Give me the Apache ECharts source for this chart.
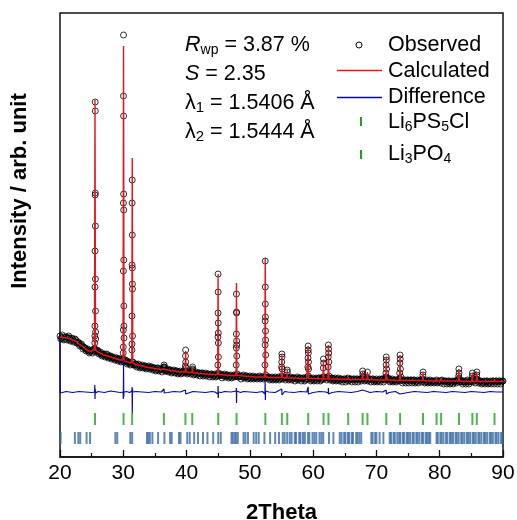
<!DOCTYPE html>
<html>
<head>
<meta charset="utf-8">
<script src="https://cdn.jsdelivr.net/npm/echarts@6/dist/echarts.min.js"></script>
<style>html,body{margin:0;padding:0;background:#fff}#c{width:517px;height:520px}</style>
</head>
<body>
<div id="c"></div>
<script>
// ---- data (intensity in arbitrary units) ----
const twoThetaStart = 20, twoThetaStep = 0.125;
const observedBackground = [
121,118,119,122,120,117,118,120, 120,117,119,121,119,116,117,119, 118,115,116,118,117,114,114,115,
114,111,112,113,111,108,110,109, 109,106,107,108,106,104,105,106, 107,104,106,108,108,105,106,107,
106,103,104,105,103,101,102,103, 103,100,101,103,102,99,100,101, 101,98,99,100,99,97,98,99,
99,96,97,98,98,95,96,97, 98,95,96,97,96,93,94,95, 95,92,93,95,95,92,92,93,
93,90,91,93,92,89,90,91, 92,89,90,91,91,88,89,90, 91,88,89,90,90,87,88,89,
89,86,87,89,89,86,87,88, 88,85,87,88,90,86,86,87, 88,85,86,87,87,84,85,86,
87,84,85,86,86,83,84,85, 86,83,84,85,86,84,85,86, 85,83,84,85,85,83,85,86,
85,82,83,84,85,82,83,84, 84,81,83,84,84,81,82,83, 84,81,82,83,83,80,82,83,
83,80,81,82,83,80,81,82, 84,81,82,83,82,79,81,82, 83,80,81,82,82,79,80,81,
82,79,80,81,82,80,81,82, 83,80,80,81,81,78,80,81, 82,79,80,81,81,78,79,80,
81,78,79,80,81,78,79,80, 80,78,79,80,81,78,79,80, 80,78,79,80,82,79,79,80,
80,77,78,79,80,77,78,79, 80,77,78,79,80,77,78,79, 81,78,79,80,79,77,79,80,
80,77,78,79,80,77,78,79, 79,76,78,79,80,77,78,79, 79,76,78,79,79,76,77,78,
80,78,81,79,79,76,77,78, 79,76,77,78,79,76,78,79, 79,76,77,78,80,78,80,79,
79,77,80,79,81,77,78,79, 79,76,77,78,79,76,77,78, 79,76,77,78,78,75,77,78,
78,75,77,78,79,76,77,78, 78,75,77,78,78,75,77,78, 78,75,77,78,78,76,78,80,
79,76,77,78,79,76,77,78, 78,75,77,78,78,75,76,77, 78,75,76,77,78,75,77,78,
78,75,77,78,80,77,78,79, 78,75,76,77,78,75,76,77, 77,75,76,77,78,76,78,80,
77,74,76,77,77,74,76,77, 77,74,76,77,77,74,76,77, 77,74,75,76,77,74,76,77,
77,75,78,77,77,74,75,76, 77,74,75,76,77,74,75,76, 76,74,75,76,77,74,75,76,
76,74,76,77,76,73,75,76, 76,73,75,76,76,73,74,75, 76,73,75,76,76,74,76,77,
78,75,76,77,75,73,75,76, 75,73,76,77,75,73,75,76, 77,75,78,77,76,74,77,78,
77,74,75,76,76,73,74,75, 76,73,75,76,76,73,74,75, 76,73,75,76,76,73,75,76,
76,73,75,76,76,73,75,76,
76
];
const observedPeaks = [
[25.50,114],[25.51,121],[25.52,131],[25.53,170],[25.54,206],[25.55,262],[25.56,355],[25.57,346],[25.58,264],[25.59,231],[25.60,178],[25.61,146],[25.62,125],[25.63,118],
[29.98,104],[29.99,110],[30.00,127],[30.01,186],[30.02,254],[30.03,361],[30.04,422],[30.05,341],[30.06,263],[30.07,247],[30.08,197],[30.09,151],[30.10,131],[30.11,119],
[31.36,107],[31.37,113],[31.38,141],[31.39,192],[31.40,254],[31.41,277],[31.42,222],[31.43,189],[31.44,173],[31.45,168],[31.46,121],
[36.42,90],[36.45,92],[36.48,89],
[39.80,91],[39.83,101],[39.85,107],[39.87,95],[39.90,89],
[40.92,88],[40.95,90],[40.98,87],
[44.94,92],[44.96,120],[44.97,144],[44.98,183],[44.99,165],[45.00,134],[45.01,124],[45.02,114],[45.03,100],
[47.84,92],[47.86,109],[47.87,123],[47.88,163],[47.89,145],[47.90,144],[47.91,116],[47.92,112],[47.93,101],
[52.39,92],[52.41,112],[52.42,136],[52.43,196],[52.44,170],[52.45,153],[52.46,140],[52.47,126],[52.48,117],[52.50,102],
[55.02,90],[55.04,95],[55.06,103],[55.08,100],[55.10,88],
[55.90,87],[55.93,85],
[59.17,90],[59.19,99],[59.21,111],[59.22,107],[59.24,104],[59.26,95],[59.28,88],
[61.60,89],[61.63,98],[61.66,94],
[62.37,90],[62.39,100],[62.41,112],[62.43,108],[62.45,104],[62.47,95],
[67.82,86],[67.86,83],[68.58,85],
[71.50,84],[71.53,92],[71.55,100],[71.57,97],[71.60,88],
[73.68,84],[73.71,94],[73.73,102],[73.76,98],[73.79,88],
[77.34,82],[77.37,85],
[83.00,81],[83.03,88],[83.06,84],
[85.14,81],[85.17,84],[85.84,82],[85.87,85]
];
const calculatedBackground = [
[20,120],[20.5,119.5],[21,119],[21.5,118.5],[22,117],[22.5,116],[23,113],[23.5,111],[24,108.5],[24.5,106],[25,106],[25.3,106.5],[26,105],[26.5,103.5],[27,102],[27.5,101],[28,100],[28.5,99],[29,98],[29.5,97],[29.8,97],[30.5,95.5],[31,94.5],[31.7,93.5],[32,92.5],[33,91],[34,89.5],[35,88.5],[36,87.5],[37,87],[38,86],[39,85],[40,85],[41.5,84],[42,83.5],[43,83],[44,82.5],[45.3,82.5],[46,82],[47,81.5],[48.5,81.5],[49,81],[50,80.5],[51,80],[52,80],[53,79.5],[54,79.5],[55.3,79.5],[56.5,79],[57,79],[58,78.5],[59,78.5],[60,78.5],[62,78],[64,78],[66,77.5],[68,77.5],[70,77],[72,77],[74,76.5],[76,76.5],[78,76],[80,76],[82,76],[84,75.5],[86,75.5],[88,75.5],[90,75.5]
];
const calculatedPeaks = [
[25.45,107],[25.53,357],[25.61,107],
[29.96,97],[30.04,411],[30.12,96],
[31.34,94],[31.42,299],[31.50,94],
[36.37,88],[36.45,90],[36.53,88],
[39.77,85],[39.85,106],[39.93,85],
[40.87,84.5],[40.95,89],[41.03,84],
[44.92,82.5],[44.98,183],[45.06,82.5],
[47.82,81.5],[47.88,174],[47.96,81.5],
[52.35,80],[52.43,199],[52.51,80],
[54.98,79.5],[55.06,103],[55.14,79.5],
[55.85,79],[55.91,87],[55.97,79],
[59.14,78.5],[59.21,111],[59.29,78.5],
[61.56,78],[61.63,97],[61.71,78],
[62.34,78],[62.41,112],[62.49,78],
[65.48,77.5],[65.54,80],[65.60,77.5],
[67.76,77.5],[67.82,86],[67.88,77.5],
[68.52,77.5],[68.58,85],[68.64,77.5],
[71.48,77],[71.55,100],[71.63,77],
[73.66,76.5],[73.73,102],[73.81,76.5],
[77.30,76.5],[77.36,85],[77.42,76.5],
[79.45,76],[79.50,79],[79.55,76],
[80.17,76],[80.22,79],[80.27,76],
[82.97,76],[83.03,88],[83.10,76],
[85.10,75.5],[85.16,84],[85.22,75.5],
[85.80,75.5],[85.86,85],[85.92,75.5],
[88.61,75.5],[88.66,78],[88.71,75.5]
];
const differenceBaseline = [
[20,118],[20.05,64],[21,65.5],[22,64.5],[23,65.5],[24,65],[25,64.5],[26,65.5],[27,64.5],[28,66],[29,65],[29.5,64.5],[30.5,65.5],[31,64.5],[32,65.5],[33,65],[34,64.5],[35,65.5],[36,65],[37,64.5],[38,65.5],[39,65],[40,64.5],[41,65.5],[42,65],[43,64.5],[44,65.5],[44.5,65],[45.5,64.5],[46,65.5],[47,65],[48.5,64.5],[49,65.5],[50,65],[51,64.5],[52,65.5],[53,65],[54,64.5],[55.5,65.5],[56,65],[57,64.5],[58,65.5],[59,65],[60,64.5],[61,65.5],[62,65],[63,64.5],[64,65.5],[65,65],[66,64.5],[67,65.5],[68,65],[69,64.5],[70,65.5],[71,65],[72,64.5],[73,65.5],[74,65],[75,64.5],[76,65.5],[77,65],[78,64.5],[79,65.5],[80,65],[81,64.5],[82,65.5],[83,65],[84,64.5],[85,65.5],[86,65],[87,64.5],[88,65.5],[89,65],[90,65]
];
const differencePeaks = [
[25.47,65],[25.50,72],[25.53,58],[25.56,68],[25.60,64],
[29.97,65],[30.01,58],[30.04,97],[30.07,60],[30.11,65],
[31.36,66],[31.39,70],[31.42,44],[31.46,68],[31.50,65],
[36.43,68],[36.47,64],
[39.82,67],[39.87,63],
[44.95,63],[44.98,71],[45.01,59],[45.05,65],
[47.84,66],[47.87,69],[47.89,54],[47.93,66],
[52.39,63],[52.42,77],[52.45,57],[52.49,66],
[55.04,68],[55.07,62],
[59.19,64],[59.21,70],[59.24,63],
[62.39,64],[62.41,69],[62.44,63],
[67.80,67],
[71.54,67],[71.58,63],
[73.72,63],
[83.02,66],[83.05,63]
];
const li6ps5clReflections = [25.53,30.04,31.40,36.42,39.82,40.90,45.00,47.90,52.45,55.06,55.91,59.22,61.64,62.42,65.54,67.82,68.58,71.56,73.74,77.36,79.50,80.22,83.04,85.16,85.86,88.66];
const li3po4Reflections = [20.1,22.35,22.9,23.2,24.2,24.75,28.75,29.05,31.1,31.4,33.75,33.95,34.2,34.6,35.5,36.5,37.4,37.65,38.8,39.05,40.1,40.5,41.2,41.8,42.6,43.3,44.2,45.0,45.4,47.1,47.3,47.6,47.8,48.1,49.0,49.3,49.7,50.6,51.0,51.4,52.3,53.2,54.0,54.6,55.2,55.5,55.9,56.3,56.6,57.1,57.3,57.8,58.0,58.4,58.7,59.2,59.4,59.9,60.2,60.5,61.0,61.3,61.6,62.5,63.2,64.2,64.5,64.9,65.1,65.5,65.7,66.1,66.3,66.8,67.0,67.3,67.6,69.2,69.4,69.8,70.0,70.5,71.1,72.1,72.3,72.7,72.9,73.3,73.6,73.8,74.2,74.4,74.8,75.0,75.3,75.7,75.9,76.3,76.5,76.8,77.2,77.4,77.8,78.0,78.3,78.5,79.5,79.7,80.1,80.3,80.6,81.0,81.2,81.6,81.8,82.1,82.5,82.7,83.0,83.4,83.6,83.9,84.3,84.5,84.8,85.2,85.4,85.7,86.1,86.3,86.6,87.0,87.2,87.5,87.9,88.1,88.4,88.8,89.0,89.3,89.7,89.9];
const xTickValues = [20,30,40,50,60,70,80,90];

// ---- build ----
const FONT = '"Liberation Sans", Arial, Helvetica, sans-serif';
const byX = (a, b) => a[0] - b[0];
const observed = observedBackground.map((v, i) => [twoThetaStart + i * twoThetaStep, v]).concat(observedPeaks).sort(byX);
const calculated = calculatedBackground.concat(calculatedPeaks).sort(byX);
const difference = differenceBaseline.concat(differencePeaks).sort(byX);
const rowLi6 = 38, rowLi3 = 19;

const chart = echarts.init(document.getElementById('c'), null, {renderer: 'canvas'});
const rich = {
  i: {fontStyle: 'italic', fontSize: 21.5, lineHeight: 24, fontFamily: FONT},
  n: {fontSize: 21.5, lineHeight: 24, fontFamily: FONT},
  s: {fontSize: 14, verticalAlign: 'bottom', lineHeight: 14, fontFamily: FONT},
  d: {fontSize: 15, verticalAlign: 'bottom', lineHeight: 10, fontFamily: FONT}
};
function txt(x, y, text) {
  return {type: 'text', x: x, y: y, z: 100, style: {text: text, fontSize: 21.5, fontFamily: FONT, fill: '#000',
    align: 'left', verticalAlign: 'middle', textAlign: 'left', textVerticalAlign: 'middle', rich: rich}};
}
chart.setOption({
  animation: false,
  backgroundColor: '#fff',
  grid: {left: 60, right: 14, top: 13, bottom: 63, show: true, borderColor: '#111', borderWidth: 1.5,
         backgroundColor: 'transparent', containLabel: false, outerBoundsMode: 'none'},
  xAxis: {
    type: 'value', min: xTickValues[0], max: xTickValues[xTickValues.length - 1], interval: 10,
    axisLine: {show: true, onZero: false, lineStyle: {color: '#111', width: 1.5}},
    axisTick: {show: true, inside: true, length: 7, lineStyle: {color: '#111', width: 1.3}},
    minorTick: {show: true, splitNumber: 2, length: 4, lineStyle: {color: '#111', width: 1.2}},
    axisLabel: {color: '#000', fontSize: 21, fontFamily: FONT, margin: 6},
    splitLine: {show: false},
    name: '2Theta', nameLocation: 'middle', nameGap: 45,
    nameTextStyle: {color: '#000', fontSize: 22, fontWeight: 'bold', fontFamily: FONT}
  },
  yAxis: {
    type: 'value', min: 0, max: 444,
    axisLine: {show: false}, axisTick: {show: false}, axisLabel: {show: false}, splitLine: {show: false}
  },
  graphic: [
    {type: 'text', x: 20, y: 191, rotation: Math.PI / 2, z: 100,
     style: {text: 'Intensity / arb. unit', font: 'bold 22px ' + FONT, fill: '#000',
       align: 'center', verticalAlign: 'middle', textAlign: 'center', textVerticalAlign: 'middle'}},
    txt(185, 45, '{i|R}{s|wp}{n| = 3.87 %}'),
    txt(185, 74, '{i|S}{n| = 2.35}'),
    txt(185, 103, '{n|λ}{d|1}{n| = 1.5406 Å}'),
    txt(185, 132, '{n|λ}{d|2}{n| = 1.5444 Å}'),
    {type: 'circle', z: 100, shape: {cx: 359, cy: 45, r: 3}, style: {fill: 'none', stroke: '#000', lineWidth: 1}},
    {type: 'line', z: 100, shape: {x1: 337, y1: 70.5, x2: 382, y2: 70.5}, style: {stroke: '#e3161e', lineWidth: 1.3}},
    {type: 'line', z: 100, shape: {x1: 337, y1: 97.5, x2: 382, y2: 97.5}, style: {stroke: '#0a0a9e', lineWidth: 1.3}},
    {type: 'rect', z: 100, shape: {x: 360, y: 117, width: 2, height: 9}, style: {fill: '#23a023'}},
    {type: 'rect', z: 100, shape: {x: 360, y: 150, width: 2, height: 9}, style: {fill: '#23a023'}},
    txt(388, 45, '{n|Observed}'),
    txt(388, 71, '{n|Calculated}'),
    txt(388, 97.5, '{n|Difference}'),
    txt(388, 122, '{n|Li}{s|6}{n|PS}{s|5}{n|Cl}'),
    txt(388, 154, '{n|Li}{s|3}{n|PO}{s|4}')
  ],
  series: [
    {name: 'Observed', type: 'scatter', data: observed, symbol: 'circle', symbolSize: 6,
     itemStyle: {color: 'rgba(0,0,0,0)', borderColor: '#000', borderWidth: 1}, z: 2, silent: true, large: false},
    {name: 'Calculated', type: 'line', data: calculated, showSymbol: false, symbol: 'none',
     lineStyle: {color: '#e3161e', width: 1.4}, z: 3, silent: true},
    {name: 'Difference', type: 'line', data: difference, showSymbol: false, symbol: 'none',
     lineStyle: {color: '#0a0a9e', width: 1.2}, z: 3, silent: true},
    {name: 'Li6PS5Cl', type: 'scatter', data: li6ps5clReflections.map(t => [t, rowLi6]), symbol: 'rect', symbolSize: [2, 12],
     itemStyle: {color: '#23a023'}, z: 2, silent: true},
    {name: 'Li3PO4', type: 'scatter', data: li3po4Reflections.map(t => [t, rowLi3]), symbol: 'rect', symbolSize: [2, 12],
     itemStyle: {color: '#3b6ca4'}, z: 2, silent: true}
  ]
});
</script>
</body>
</html>
